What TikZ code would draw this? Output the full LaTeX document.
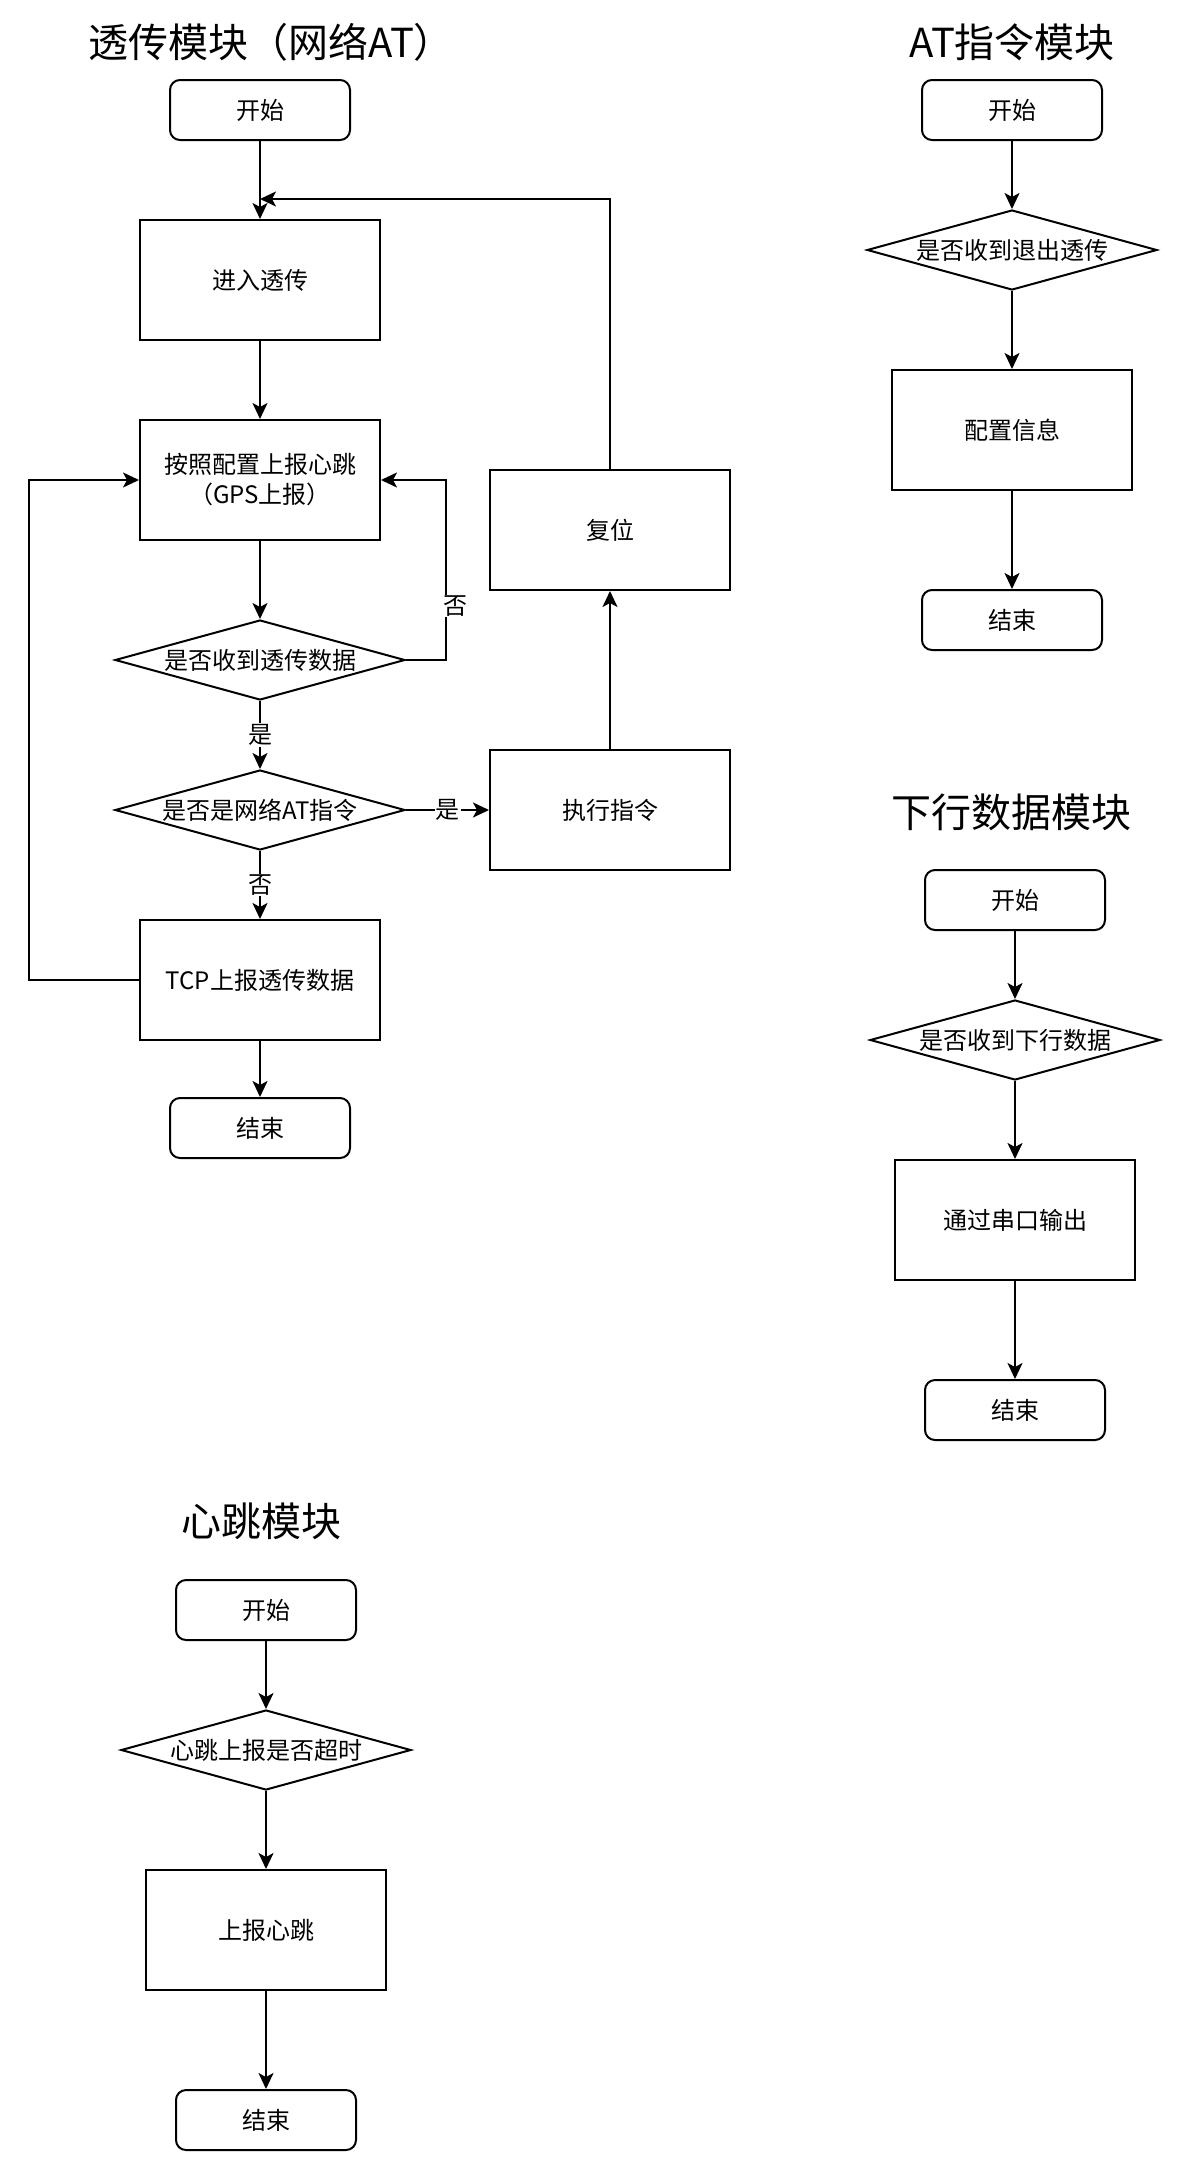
\documentclass[tikz,border=0pt]{standalone}
\usepackage{fontspec}
\setmainfont{Noto Sans CJK SC}
\usetikzlibrary{positioning,arrows.meta,shapes.geometric}

\begin{document}
\begin{tikzpicture}[
    x=1pt, y=-1pt,
    >={Stealth[length=16pt, width=15pt, inset=4pt]},
    box/.style={draw, line width=2pt, minimum width=240pt, minimum height=120pt, align=center,
                font=\fontsize{24}{30}\selectfont},
    endbox/.style={draw, line width=2pt, rounded corners=10pt, minimum width=180pt, minimum height=60pt,
                font=\fontsize{24}{30}\selectfont},
    choice/.style={draw, diamond, aspect=3.625, inner sep=0pt, line width=2pt,
                minimum width=290pt, minimum height=80pt, font=\fontsize{24}{30}\selectfont},
    title/.style={font=\fontsize{40}{48}\selectfont},
    lbl/.style={fill=white, inner sep=1pt, font=\fontsize{24}{30}\selectfont},
    arr/.style={->, line width=2pt},
  ]
  \useasboundingbox (0,0) rectangle (1178,2168);

  % --- Pass-through module (left) ---
  \node[title] (t1) at (271, 42) {透传模块（网络AT）};
  \node[endbox] (start1) at (260, 110) {开始};
  \node[box] (enter)  at (260, 280) {进入透传};
  \node[box] (report) at (260, 480) {按照配置上报心跳\\（GPS上报）};
  \node[choice] (recv) at (260, 660) {是否收到透传数据};
  \node[choice] (isat) at (260, 810) {是否是网络AT指令};
  \node[box] (tcp)    at (260, 980) {TCP上报透传数据};
  \node[endbox] (end1) at (260, 1128) {结束};
  \node[box] (exec)   at (610, 810) {执行指令};
  \node[box] (reset)  at (610, 530) {复位};

  \draw[arr] (start1) -- (enter);
  \draw[arr] (enter) -- (report);
  \draw[arr] (report) -- (recv);
  \draw[arr] (recv) -- node[lbl] {是} (isat);
  \draw[arr] (isat) -- node[lbl] {否} (tcp);
  \draw[arr] (tcp) -- (end1);
  \draw[arr] (isat) -- node[lbl] {是} (exec);
  \draw[arr] (exec) -- (reset);

  % --- loops back (right-angle elbows) ---
  \draw[arr] (reset.north) |- ([yshift=20pt]enter.north);
  \draw[arr] (recv.east) -- ++(40,0) |- node[lbl, pos=0.15, xshift=9pt] {否} (report.east);
  \draw[arr] (tcp.west) -- ++(-110,0) |- (report.west);

  % --- AT command module (top right) ---
  \node[title] (t2) at (1012, 42) {AT指令模块};
  \node[endbox] (start2) at (1012, 110) {开始};
  \node[choice] (quit)  at (1012, 250) {是否收到退出透传};
  \node[box] (config)   at (1012, 430) {配置信息};
  \node[endbox] (end2)  at (1012, 620) {结束};

  \draw[arr] (start2) -- (quit);
  \draw[arr] (quit) -- (config);
  \draw[arr] (config) -- (end2);

  % --- Downlink data module (right) ---
  \node[title] (t3) at (1011, 812) {下行数据模块};
  \node[endbox] (start3) at (1015, 900) {开始};
  \node[choice] (down)  at (1015, 1040) {是否收到下行数据};
  \node[box] (serial)   at (1015, 1220) {通过串口输出};
  \node[endbox] (end3)  at (1015, 1410) {结束};

  \draw[arr] (start3) -- (down);
  \draw[arr] (down) -- (serial);
  \draw[arr] (serial) -- (end3);

  % --- Heartbeat module (bottom left) ---
  \node[title] (t4) at (261, 1521) {心跳模块};
  \node[endbox] (start4) at (266, 1610) {开始};
  \node[choice] (timeout) at (266, 1750) {心跳上报是否超时};
  \node[box] (beat)     at (266, 1930) {上报心跳};
  \node[endbox] (end4)  at (266, 2120) {结束};

  \draw[arr] (start4) -- (timeout);
  \draw[arr] (timeout) -- (beat);
  \draw[arr] (beat) -- (end4);
\end{tikzpicture}
\end{document}
